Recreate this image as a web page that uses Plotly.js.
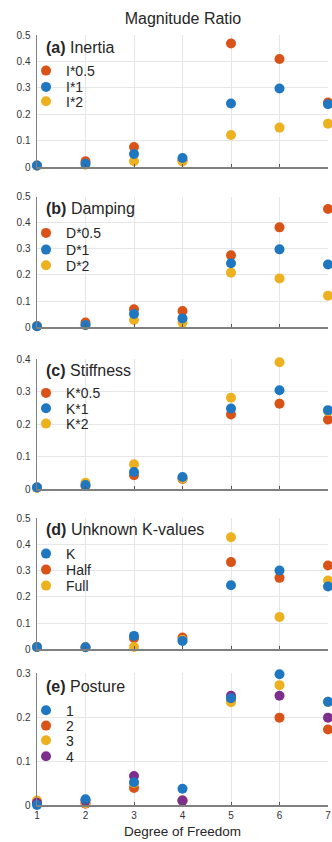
<!DOCTYPE html>
<html>
<head>
<meta charset="utf-8">
<script src="https://cdn.plot.ly/plotly-3.0.1.min.js"></script>
<style>html,body{margin:0;padding:0;background:#fff;}#chart{width:332px;height:842px;}</style>
</head>
<body>
<div id="chart"></div>
<script>
// Degree of freedom (x categories)
const dof = [1, 2, 3, 4, 5, 6, 7];

// (a) Inertia
const inertiaNames = ['I*0.5', 'I*1', 'I*2'];
const inertiaHalf = [0.007, 0.023, 0.077, 0.027, 0.468, 0.409, 0.245];
const inertiaOne  = [0.007, 0.013, 0.050, 0.035, 0.241, 0.298, 0.238];
const inertiaTwo  = [0.006, 0.010, 0.023, 0.022, 0.122, 0.150, 0.165];

// (b) Damping
const dampingNames = ['D*0.5', 'D*1', 'D*2'];
const dampingHalf = [0.005, 0.018, 0.069, 0.062, 0.275, 0.382, 0.452];
const dampingOne  = [0.004, 0.009, 0.051, 0.034, 0.245, 0.298, 0.240];
const dampingTwo  = [0.004, 0.008, 0.028, 0.018, 0.209, 0.187, 0.121];

// (c) Stiffness
const stiffNames = ['K*0.5', 'K*1', 'K*2'];
const stiffHalf = [0.005, 0.010, 0.043, 0.032, 0.230, 0.263, 0.214];
const stiffOne  = [0.006, 0.013, 0.053, 0.038, 0.248, 0.304, 0.243];
const stiffTwo  = [0.005, 0.020, 0.077, 0.033, 0.281, 0.390, 0.240];

// (d) Unknown K-values
const unknownNames = ['K', 'Half', 'Full'];
const unknownK    = [0.009, 0.008, 0.051, 0.032, 0.244, 0.300, 0.239];
const unknownHalf = [0.009, 0.008, 0.042, 0.045, 0.332, 0.272, 0.319];
const unknownFull = [0.009, 0.008, 0.009, 0.035, 0.427, 0.123, 0.262];

// (e) Posture
const postureNames = ['1', '2', '3', '4'];
const posture1 = [0.000, 0.013, 0.052, 0.037, 0.243, 0.298, 0.235];
const posture2 = [0.005, 0.003, 0.039, 0.010, 0.240, 0.199, 0.172];
const posture3 = [0.010, 0.004, 0.050, 0.010, 0.234, 0.273, 0.235];
const posture4 = [0.005, 0.010, 0.066, 0.010, 0.249, 0.249, 0.199];

const panelTitles = ['<b>(a)</b> Inertia', '<b>(b)</b> Damping', '<b>(c)</b> Stiffness', '<b>(d)</b> Unknown K-values', '<b>(e)</b> Posture'];
const yMax = [0.5, 0.5, 0.4, 0.5, 0.3];

const RED = '#D95319', BLUE = '#1F77C2', YEL = '#EDB120', PUR = '#7E2F8E';

// ---- layout geometry (pixels) ----
const W = 332, H = 842, ML = 36.5, MR = 4, MT = 35, MB = 37;
const plotH = H - MT - MB, plotW = W - ML - MR;
const py = p => (H - MB - p) / plotH;      // pixel row -> paper y
const px = p => (p - ML) / plotW;          // pixel col -> paper x
const panelPx = [[35, 167.3], [196.5, 327.3], [359, 489.3], [518, 649.3], [673.3, 805]];
const titlePx = [47.7, 209, 370, 529, 686];
const entryPx = [[71, 87.3, 101.7], [233.3, 250, 265.7], [393.3, 408.7, 424], [554, 570, 586], [710.7, 726, 740.7, 756.7]];

// panel series: in legend order, with draw order (blue on top)
const panels = [
  [[inertiaHalf, inertiaNames[0], RED, 0], [inertiaOne, inertiaNames[1], BLUE, 2], [inertiaTwo, inertiaNames[2], YEL, 1]],
  [[dampingHalf, dampingNames[0], RED, 0], [dampingOne, dampingNames[1], BLUE, 2], [dampingTwo, dampingNames[2], YEL, 1]],
  [[stiffHalf, stiffNames[0], RED, 0], [stiffOne, stiffNames[1], BLUE, 2], [stiffTwo, stiffNames[2], YEL, 1]],
  [[unknownK, unknownNames[0], BLUE, 2], [unknownHalf, unknownNames[1], RED, 0], [unknownFull, unknownNames[2], YEL, 1]],
  [[posture1, postureNames[0], BLUE, 3], [posture2, postureNames[1], RED, 0], [posture3, postureNames[2], YEL, 1], [posture4, postureNames[3], PUR, 2]]
];

const FONT = 'Liberation Sans, Arial, sans-serif';
const TXT = '#262626';

const layout = {
  width: W, height: H,
  margin: {l: ML, r: MR, t: MT, b: MB},
  paper_bgcolor: '#ffffff', plot_bgcolor: '#ffffff',
  font: {family: FONT, color: TXT, size: 10},
  showlegend: true,
  title: {text: 'Magnitude Ratio', font: {size: 16, family: FONT, color: TXT},
          x: 183 / W, xanchor: 'center', y: 1 - 18 / H, yanchor: 'middle'},
  annotations: []
};

const data = [];
let legendCount = 0;

for (let i = 0; i < 5; i++) {
  const s = i === 0 ? '' : String(i + 1);
  const last = i === 4;
  const dom = [py(panelPx[i][1]), py(panelPx[i][0])];
  layout['xaxis' + s] = {
    domain: [0, 1], anchor: 'y' + s, range: [1, 7], dtick: 1, tick0: 1,
    showgrid: true, gridcolor: '#e6e6e6', gridwidth: 1, zeroline: false,
    showline: true, linecolor: '#808080', linewidth: 1.5,
    ticks: 'inside', ticklen: 3, tickcolor: '#555555',
    showticklabels: last, tickfont: {size: 10, color: '#333333'},
    ticklabeloverflow: 'allow',
    title: last ? {text: 'Degree of Freedom', font: {size: 13.5, color: TXT}, standoff: 7} : {text: ''}
  };
  layout['yaxis' + s] = {
    domain: dom, anchor: 'x' + s, range: [0, yMax[i]], dtick: 0.1,
    showgrid: true, gridcolor: '#e6e6e6', gridwidth: 1, zeroline: false,
    showline: true, linecolor: '#808080', linewidth: 1.5,
    ticks: '', tickfont: {size: 10, color: '#333333'}, ticklabelstandoff: 3
  };
  layout.annotations.push({
    text: panelTitles[i], xref: 'paper', yref: 'paper',
    x: px(44), xanchor: 'left', y: py(titlePx[i]), yanchor: 'middle',
    showarrow: false, font: {size: 16, family: FONT, color: TXT}
  });

  // one legend per entry so each entry sits at its own row
  const legendIds = [];
  panels[i].forEach((ser, k) => {
    legendCount++;
    const lid = legendCount === 1 ? 'legend' : 'legend' + legendCount;
    legendIds.push(lid);
    layout[lid] = {
      x: px(46 - 20.5), xanchor: 'left', y: py(entryPx[i][k]), yanchor: 'middle',
      bgcolor: 'rgba(0,0,0,0)', borderwidth: 0,
      font: {size: 14, family: FONT, color: TXT},
      itemwidth: 30, tracegroupgap: 0
    };
  });

  // traces in draw order
  const order = panels[i].map((ser, k) => k).sort((a, b) => panels[i][a][3] - panels[i][b][3]);
  order.forEach(k => {
    const ser = panels[i][k];
    data.push({
      x: dof, y: ser[0], name: ser[1], type: 'scatter', mode: 'markers',
      marker: {color: ser[2], size: 10},
      xaxis: 'x' + s, yaxis: 'y' + s, legend: legendIds[k],
      cliponaxis: false, hoverinfo: 'x+y+name'
    });
  });
}

Plotly.newPlot('chart', data, layout, {displayModeBar: false, staticPlot: true});
</script>
</body>
</html>
